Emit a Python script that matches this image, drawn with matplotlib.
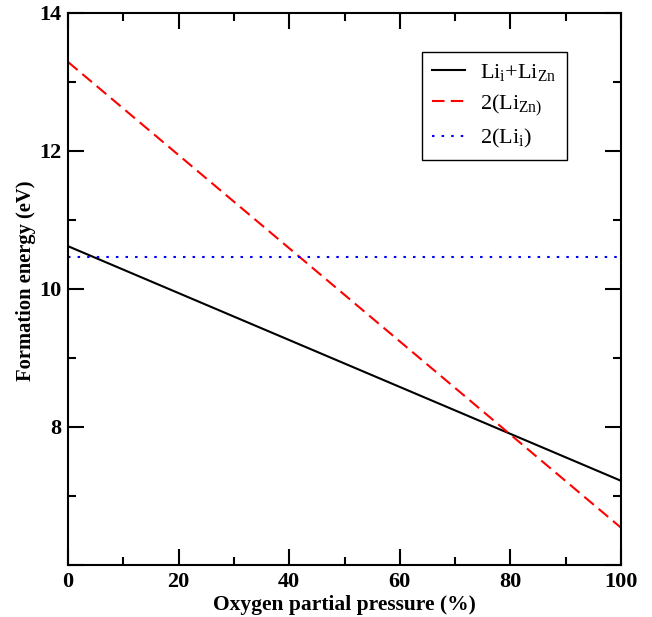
import matplotlib
matplotlib.use("Agg")
import matplotlib.pyplot as plt
from matplotlib.ticker import MultipleLocator

plt.rcParams['font.family'] = ['Liberation Serif', 'DejaVu Serif']
plt.rcParams['mathtext.fontset'] = 'custom'
plt.rcParams['mathtext.rm'] = 'Liberation Serif'
plt.rcParams['mathtext.it'] = 'Liberation Serif:italic'
plt.rcParams['mathtext.bf'] = 'Liberation Serif:bold'

# end points of each formation-energy line (eV) vs O2 partial pressure (%)
pressure = [0, 100]
li_i_li_zn = [10.62, 7.22]
two_li_zn = [13.29, 6.54]
two_li_i = [10.46, 10.46]

fig = plt.figure(figsize=(6.52, 6.17), dpi=100)
ax = fig.add_axes([0.1043, 0.0843, 0.8482, 0.8947])

ax.plot(pressure, li_i_li_zn, color='black', lw=1.5,
        label=r'Li$_\mathrm{i}$+Li$_\mathrm{Zn}$')
ax.plot(pressure, two_li_zn, color='red', lw=1.5, dashes=(6, 3),
        label=r'2(Li$_\mathrm{Zn)}$')
ax.plot(pressure, two_li_i, color='blue', lw=1.5, dashes=(1.2, 3.4),
        label=r'2(Li$_\mathrm{i}$)')

ax.set_xlim(0, 100)
ax.set_ylim(6, 14)
ax.xaxis.set_major_locator(MultipleLocator(20))
ax.xaxis.set_minor_locator(MultipleLocator(10))
ax.yaxis.set_major_locator(MultipleLocator(2))
ax.yaxis.set_minor_locator(MultipleLocator(1))
ax.set_yticks([6, 8, 10, 12, 14])
ax.set_yticklabels(['', '8', '10', '12', '14'])

ax.tick_params(which='both', direction='in', top=True, right=True, width=1.5,
               labelsize=16)
ax.tick_params(which='major', length=11.5, pad=5)
ax.tick_params(which='minor', length=6)
for lab in ax.get_xticklabels() + ax.get_yticklabels():
    lab.set_fontweight('bold')
for sp in ax.spines.values():
    sp.set_linewidth(1.5)

ax.set_xlabel('Oxygen partial pressure (%)', fontsize=15.5, fontweight='bold',
              labelpad=2)
ax.set_ylabel('Formation energy (eV)', fontsize=14.8, fontweight='bold')
ax.yaxis.set_label_coords(-0.058, 0.515)

leg = ax.legend(loc='upper left', bbox_to_anchor=(0.641, 0.93), fontsize=16,
                fancybox=False, edgecolor='black', framealpha=1,
                handlelength=1.45, handletextpad=0.7, borderpad=0.45,
                labelspacing=0.42, borderaxespad=0)
leg.get_frame().set_linewidth(1.0)

fig.savefig('out.png', dpi=100)
